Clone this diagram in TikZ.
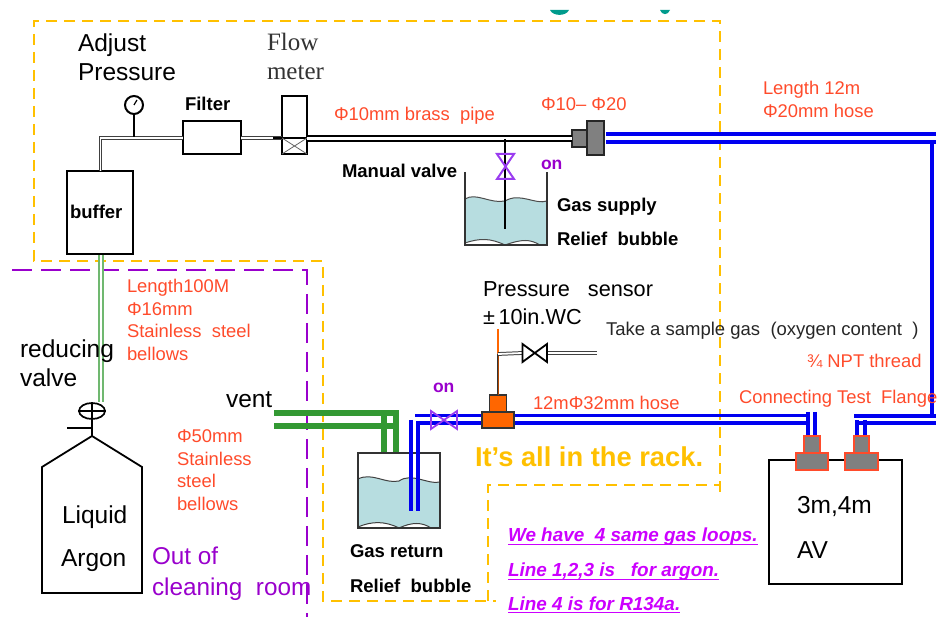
\documentclass[tikz,border=0pt]{standalone}
\usepackage{fontspec}
\setmainfont{Liberation Sans}
\newfontfamily\serifface{Liberation Serif}
\usetikzlibrary{shapes.geometric}
\definecolor{yel}{HTML}{FFC000}
\definecolor{pur}{HTML}{9900CC}
\definecolor{redt}{HTML}{FF4B2B}
\definecolor{mag}{HTML}{CC00FF}
\definecolor{grn}{HTML}{339933}
\definecolor{wat}{HTML}{B7DDE0}
\definecolor{org}{HTML}{FF6600}
\definecolor{teal2}{HTML}{009B8D}
\definecolor{pipeblue}{HTML}{0000F0}
\definecolor{valvep}{HTML}{9A3CF0}
\tikzset{
  x=1pt,y=-1pt,
  lbl/.style={anchor=base west,inner sep=0pt,outer sep=0pt},
  big/.style={lbl,font=\fontsize{24.5}{26}\selectfont,text=black},
  mid/.style={lbl,font=\fontsize{21.7}{24}\selectfont,text=black},
  flowt/.style={lbl,font=\fontsize{25}{26}\serifface\selectfont,text=black!80},
  redlbl/.style={lbl,font=\fontsize{18.4}{20}\selectfont,text=redt},
  boldl/.style={lbl,font=\fontsize{18.5}{20}\bfseries\selectfont,text=black},
  onl/.style={lbl,font=\fontsize{17.5}{20}\bfseries\selectfont,text=pur},
  purl/.style={lbl,font=\fontsize{24.3}{26}\selectfont,text=pur},
  magl/.style={lbl,font=\fontsize{18.9}{20}\bfseries\itshape\selectfont,text=mag},
  uline/.style={draw=mag,line width=1.5pt},
  box/.style={draw=black,line width=2pt,fill=white,inner sep=0pt,outer sep=0pt,anchor=north west},
  yeld/.style={draw=yel,line width=2pt,dash pattern=on 11pt off 7pt},
  purd/.style={draw=pur,line width=2pt,dash pattern=on 20pt off 9pt},
  thinp/.style={draw=black!75,line width=1pt,double=white,double distance=1.8pt},
  blackp/.style={draw=black,line width=2.2pt,double=white,double distance=3pt},
  bluel/.style={draw=pipeblue,line width=3.4pt},
  bluep/.style={draw=pipeblue,line width=3.4pt,double=white,double distance=4.6pt},
  greenl/.style={draw=grn,line width=6pt},
  fitt/.style={draw=black!85,line width=1.3pt,fill=black!50,inner sep=0pt,outer sep=0pt,anchor=north west},
  fitr/.style={draw=redt,line width=1.3pt,fill=black!50,inner sep=0pt,outer sep=0pt,anchor=north west},
  orgb/.style={draw=black!80,line width=1.3pt,fill=org,inner sep=0pt,outer sep=0pt,anchor=north west},
  sizedbox/.style 2 args={minimum width=#1pt,minimum height=#2pt},
}
\begin{document}
\begin{tikzpicture}
\useasboundingbox (0,0) rectangle (938,617);
% teal arcs clipped from the slide above
\fill[teal2] (550,10) .. controls (553,16.5) and (566,16.5) .. (569,10) -- cycle;
\fill[teal2] (660,10) .. controls (662,15.5) and (668,15.5) .. (670,10) -- cycle;
% dashed zones
\draw[yeld] (720,492) -- (720,21) -- (34,21) -- (34,261) -- (323,261) -- (323,601) -- (496,601);
\draw[yeld] (488,601) -- (488,485) -- (720,485);
\draw[purd] (12,270) -- (307,270) -- (307,617);

% green pipes
\draw[draw=grn!70!white,line width=1.5pt,double=white,double distance=2.2pt] (101,252) -- (101,402);
\draw[greenl] (274,413) -- (396,413) -- (396,453);
\draw[greenl] (274,426) -- (396,426);
\draw[greenl] (384,413) -- (384,453);

% nodes of the supply line
\node[box,sizedbox={66}{83}] (buffer) at (67,171) {};
\node[box,sizedbox={58}{33}] (filter) at (183,121) {};
\node[box,sizedbox={25}{58}] (meter) at (282,96) {};
\coordinate (elbow) at (100.5,138);
\coordinate (gaugefoot) at (134,137);
\draw[thinp] (buffer.north -| elbow) -- (elbow) -- (filter.west |- elbow);
\draw[thinp] (filter.east |- elbow) -- (meter.west |- elbow);
\draw[black,line width=2.2pt] (273,138) -- (285,138);
\node[circle,draw=black,line width=2pt,fill=white,minimum size=18pt,inner sep=0pt] (gauge) at (134,105) {};
\draw[black,line width=2pt] (gauge.south) -- (gaugefoot);
\draw[black,line width=1.2pt] (gauge.center) -- (137,100);
\draw[black,line width=1.6pt] (282,138) -- (307,138);
\draw[black!60,line width=.8pt] (282,138) -- (307,154) (307,138) -- (282,154);

% brass pipe, reducer
\node[fitt,sizedbox={16}{17}] (red1) at (572,130) {};
\node[fitt,sizedbox={17}{34}] (red2) at (587,121) {};
\draw[blackp] (meter.east |- red1.west) -- (red1.west);
\coordinate (bturn) at (936,138);
\draw[bluep] (606,138) -- (bturn);
\coordinate (rtop) at (932,140);
\coordinate (rbot) at (932,417);
\draw[bluel] (rtop) -- (rbot);

% gas supply tank
\fill[wat] (465,199) .. controls (476,192) and (490,204) .. (505,201) .. controls (520,192) and (535,205) .. (547,201)
  -- (547,245) -- (540,245) .. controls (530,239) and (522,239) .. (505,245) .. controls (490,238) and (480,238) .. (465,243) -- cycle;
\draw[black!70,line width=1pt] (465,199) .. controls (476,192) and (490,204) .. (505,201) .. controls (520,192) and (535,205) .. (547,201);
\draw[black!70,line width=1pt] (465,243) .. controls (480,238) and (490,238) .. (505,245) .. controls (522,239) and (530,239) .. (540,245);
\draw[black!80,line width=1.1pt] (465,172) -- (465,245) -- (547,245) -- (547,172);
\coordinate (sup1) at (505,139);
\coordinate (sup2) at (505,229);
\draw[black,line width=1.8pt] (sup1) -- (sup2);
\draw[draw=valvep,line width=2pt] (497,154) -- (514,154) -- (497,179) -- (514,179) -- cycle;

% return tank
\fill[wat] (358,479) .. controls (372,472) and (385,484) .. (399,481) .. controls (412,472) and (428,485) .. (440,482)
  -- (440,528) -- (431,528) .. controls (422,522) and (412,522) .. (399,528) .. controls (385,521) and (372,521) .. (358,527) -- cycle;
\draw[black!75,line width=1pt] (358,479) .. controls (372,472) and (385,484) .. (399,481) .. controls (412,472) and (428,485) .. (440,482);
\draw[black!75,line width=1pt] (358,527) .. controls (372,521) and (385,521) .. (399,528) .. controls (412,522) and (422,522) .. (431,528);
\draw[black!80,line width=1.1pt] (358,453) rectangle (440,528);
\coordinate (rb1) at (411,420);
\coordinate (rb2) at (411,511);
\coordinate (rb3) at (418,421);
\coordinate (rb4) at (418,511);
\draw[bluel] (rb1) -- (rb2);
\draw[bluel] (rb3) -- (rb4);

% return line
\coordinate (l1) at (415,415.5);
\coordinate (l2) at (810,415.5);
\coordinate (l3) at (416,423);
\coordinate (l4) at (810,423);
\draw[bluel] (l1) -- (l2);
\draw[bluel] (l3) -- (l4);
\draw[bluel] (808,412) -- (808,437);
\draw[bluel] (815,412) -- (815,437);
\coordinate (m1) at (854,416);
\coordinate (m2) at (936,416);
\coordinate (m3) at (858,423);
\coordinate (m4) at (936,423);
\draw[bluel] (m1) -- (m2);
\draw[bluel] (m3) -- (m4);
\draw[bluel] (857,420) -- (857,437);
\draw[bluel] (865,420) -- (865,437);

% return valve
\draw[draw=valvep,line width=1.8pt] (431,411) -- (457,429) -- (457,411) -- (431,429) -- cycle;

% pressure sensor
\node[orgb,sizedbox={32}{16}] (tee) at (482,412) {};
\node[orgb,sizedbox={17}{17}] (teetop) at (489.5,395) {};
\coordinate (sj) at (498,354);
\coordinate (stop) at (498,329);
\draw[org,line width=2pt] (stop) -- (sj);
\draw[black!80,line width=1pt,double=org!70!black,double distance=.8pt] (sj) -- (teetop.north);
\coordinate (sampleend) at (597,353);
\draw[thinp] (sj) -- (522,353);
\draw[thinp] (547,353) -- (sampleend);
\draw[black,line width=1.8pt] (522.5,344) -- (547,362) -- (547,344) -- (522.5,362) -- cycle;

% AV box and flanges
\node[box,sizedbox={133}{124}] (av) at (769,460) {};
\node[fitr,sizedbox={16}{17}] (f1t) at (804,436) {};
\node[fitr,sizedbox={32}{17}] (f1b) at (796,453) {};
\node[fitr,sizedbox={15}{17}] (f2t) at (854,436) {};
\node[fitr,sizedbox={33}{17}] (f2b) at (845,453) {};

% argon bottle
\coordinate (peak) at (92,436);
\draw[black,line width=1.8pt] (peak) -- (142,467) -- (142,593) -- (42,593) -- (42,467) -- cycle;
\node[ellipse,draw=black,line width=1.7pt,minimum width=26pt,minimum height=16pt,inner sep=0pt] (rv) at (92,411) {};
\draw[black,line width=1.3pt] (rv.west) -- (rv.east) (rv.north) -- (rv.south);
\draw[black,line width=1.8pt] (rv.south) -- (peak);
\coordinate (hand) at (67,428);
\draw[black,line width=1.8pt] (hand) -- (92,428);

% labels
\node[big] (t1) at (78,52) {Adjust};
\node[big] (t2) at (78,81) {Pressure};
\node[flowt] (t3) at (267,51) {Flow};
\node[flowt] (t4) at (267,80) {meter};
\node[boldl] (t5) at (185,111) {Filter};
\node[boldl] (t6) at (70,219) {buffer};
\node[redlbl] (t7) at (334,121) {Φ10mm brass\ \ pipe};
\node[redlbl] (t8) at (541,111) {Φ10– Φ20};
\node[redlbl] (t9) at (763,95) {Length 12m};
\node[redlbl] (t10) at (763,118) {Φ20mm hose};
\node[boldl] (t11) at (342,178) {Manual valve};
\node[onl] (t12) at (541,170) {on};
\node[boldl] (t13) at (557,212) {Gas supply};
\node[boldl] (t14) at (557,246) {Relief\ \ bubble};
\node[mid] (t15) at (483,297) {Pressure\ \ \ sensor};
\node[mid] (t16) at (483,325) {±\,10in.WC};
\node[lbl,font=\fontsize{18.5}{20}\selectfont,text=black!85] (t17) at (606,336) {Take a sample gas\ \ (oxygen content\ \ )};
\node[redlbl] (t18) at (807,368) {¾ NPT thread};
\node[redlbl] (t19) at (739,404) {Connecting Test\ \ Flange};
\node[redlbl] (t20) at (533,410) {12mΦ32mm hose};
\node[big] (t21) at (797,514) {3m,4m};
\node[big] (t22) at (797,559) {AV};
\node[redlbl] (t23) at (127,293) {Length100M};
\node[redlbl] (t24) at (127,316) {Φ16mm};
\node[redlbl] (t25) at (127,338) {Stainless\ \ steel};
\node[redlbl] (t26) at (127,361) {bellows};
\node[big] (t27) at (20,358) {reducing};
\node[big] (t28) at (20,387) {valve};
\node[big] (t29) at (226,408) {vent};
\node[redlbl] (t30) at (177,443) {Φ50mm};
\node[redlbl] (t31) at (177,466) {Stainless};
\node[redlbl] (t32) at (177,488) {steel};
\node[redlbl] (t33) at (177,511) {bellows};
\node[big] (t34) at (62,524) {Liquid};
\node[big] (t35) at (61,567) {Argon};
\node[purl] (t36) at (152,565) {Out of};
\node[purl] (t37) at (152,595) {cleaning\ \ room};
\node[onl] (t38) at (433,393) {on};
\node[boldl] (t39) at (350,558) {Gas return};
\node[boldl] (t40) at (350,593) {Relief\ \ bubble};
\node[lbl,font=\fontsize{27.3}{28}\bfseries\selectfont,text=yel] (t41) at (475,467) {It’s all in the rack.};
\node[magl] (t42) at (508,542) {We have\ \ 4 same gas loops.};
\node[magl] (t43) at (508,577) {Line 1,2,3 is\ \ \ for argon.};
\node[magl] (t44) at (508,610) {Line 4 is for R134a.};
\draw[uline] ([yshift=-2.6pt]t42.base west) -- ([yshift=-2.6pt]t42.base east);
\draw[uline] ([yshift=-2.6pt]t43.base west) -- ([yshift=-2.6pt]t43.base east);
\draw[uline] ([yshift=-2.6pt]t44.base west) -- ([yshift=-2.6pt]t44.base east);
\end{tikzpicture}
\end{document}
